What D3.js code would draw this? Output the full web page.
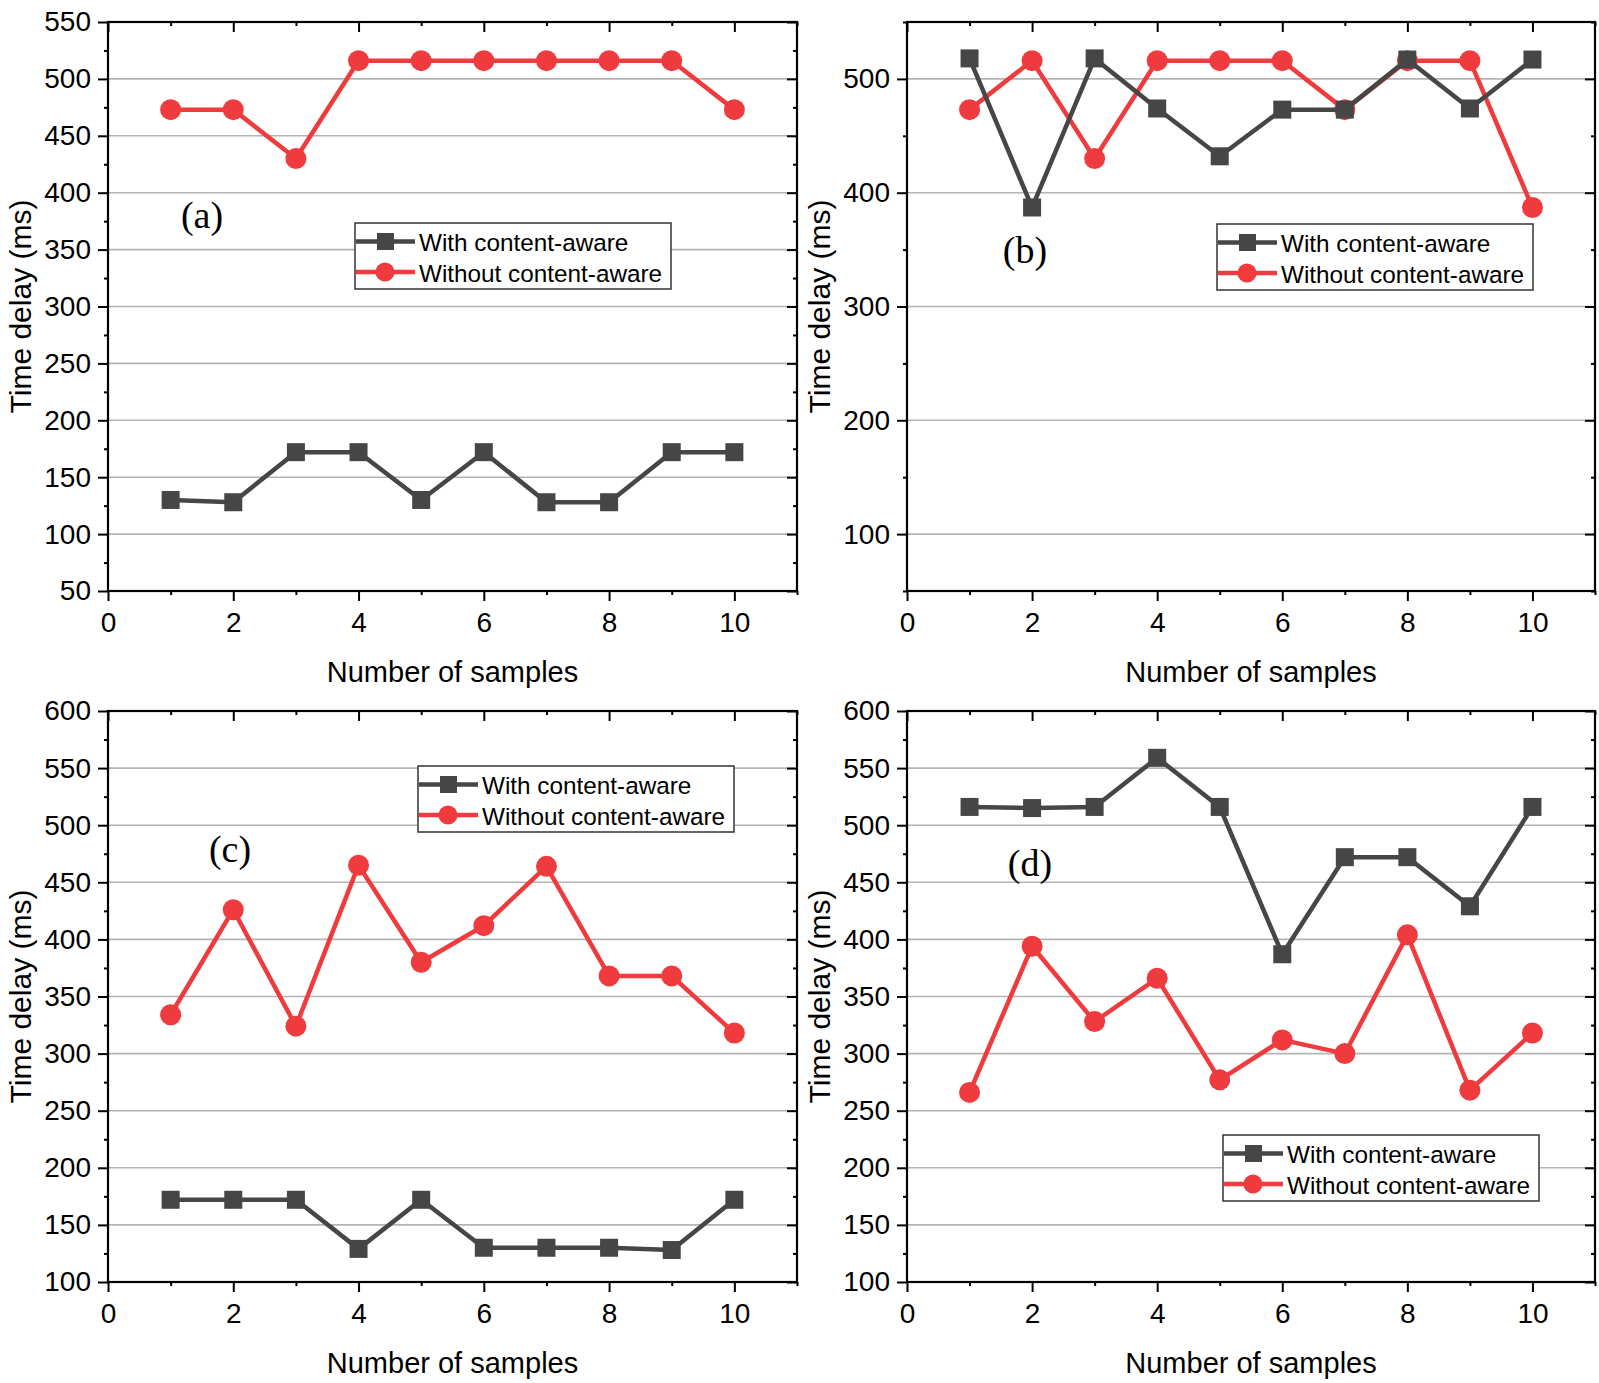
<!DOCTYPE html>
<meta charset="utf-8">
<style>
body { margin: 0; background: #fff; }
text { font-family: "Liberation Sans", Arial, sans-serif; fill: #000; }
.grid line { stroke: #b4b4b4; stroke-width: 1.6px; }
.axis path { display: none; }
.axis line { stroke: #000; stroke-width: 2px; }
</style>
<body>
<script src="https://d3js.org/d3.v7.min.js"></script>
<script>

const width = 1599
const height = 1383

// x values shared by all panels
const samples = [1, 2, 3, 4, 5, 6, 7, 8, 9, 10]
const xTickLabels = [0, 2, 4, 6, 8, 10]

// panel (a)
const aWith = [130, 128, 172, 172, 130, 172, 128, 128, 172, 172]
const aWithout = [473, 473, 430, 516, 516, 516, 516, 516, 516, 473]
const aTicks = [50, 100, 150, 200, 250, 300, 350, 400, 450, 500, 550]

// panel (b)
const bWith = [518, 387, 518, 474, 432, 473, 473, 517, 474, 517]
const bWithout = [473, 516, 430, 516, 516, 516, 473, 516, 516, 387]
const bTicks = [100, 200, 300, 400, 500]

// panel (c)
const cWith = [172, 172, 172, 129, 172, 130, 130, 130, 128, 172]
const cWithout = [334, 426, 324, 465, 380, 412, 464, 368, 368, 318]
const cTicks = [100, 150, 200, 250, 300, 350, 400, 450, 500, 550, 600]

// panel (d)
const dWith = [516, 515, 516, 559, 516, 387, 472, 472, 429, 516]
const dWithout = [266, 394, 328, 366, 277, 312, 300, 404, 268, 318]
const dTicks = [100, 150, 200, 250, 300, 350, 400, 450, 500, 550, 600]

const seriesNames = ['With content-aware', 'Without content-aware']
const panelLabels = ['(a)', '(b)', '(c)', '(d)']

const colWith = '#464646'
const colWithout = '#ef3b3d'

const svg = d3.select('body')
  .append('svg')
  .attr('width', width)
  .attr('height', height)

// one panel = frame, grid, axes, two series, legend and a letter
function drawPanel(p) {
  const x = d3.scaleLinear().domain([0, 11]).range([p.x0, p.x1])
  const y = d3.scaleLinear().domain(p.yDomain).range([p.y1, p.y0])

  const minorStep = p.ticks[1] - p.ticks[0]
  const minor = d3.range(p.yDomain[0], p.yDomain[1] + 0.1, minorStep / 2)
    .filter(v => !p.ticks.includes(v))
  const xMinor = [1, 3, 5, 7, 9, 11]

  // horizontal grid lines
  svg.append('g')
    .attr('class', 'grid')
    .selectAll('line')
    .data(p.ticks)
    .join('line')
    .attr('x1', p.x0).attr('x2', p.x1)
    .attr('y1', d => y(d)).attr('y2', d => y(d))

  // left axis, ticks out
  svg.append('g').attr('class', 'axis')
    .attr('transform', `translate(${p.x0},0)`)
    .call(d3.axisLeft(y).tickValues(p.ticks).tickSize(10).tickPadding(7))
    .selectAll('text').style('font-size', '28px')
  svg.append('g').attr('class', 'axis')
    .attr('transform', `translate(${p.x0},0)`)
    .call(d3.axisLeft(y).tickValues(minor).tickSize(4).tickFormat(''))

  // right axis, ticks in
  svg.append('g').attr('class', 'axis')
    .attr('transform', `translate(${p.x1},0)`)
    .call(d3.axisLeft(y).tickValues(p.ticks).tickSize(10).tickFormat(''))
  svg.append('g').attr('class', 'axis')
    .attr('transform', `translate(${p.x1},0)`)
    .call(d3.axisLeft(y).tickValues(minor).tickSize(4).tickFormat(''))

  // bottom axis, ticks out
  svg.append('g').attr('class', 'axis')
    .attr('transform', `translate(0,${p.y1})`)
    .call(d3.axisBottom(x).tickValues(xTickLabels).tickSize(10).tickPadding(11))
    .selectAll('text').style('font-size', '28px')
  svg.append('g').attr('class', 'axis')
    .attr('transform', `translate(0,${p.y1})`)
    .call(d3.axisBottom(x).tickValues(xMinor).tickSize(4).tickFormat(''))

  // top axis, ticks in
  svg.append('g').attr('class', 'axis')
    .attr('transform', `translate(0,${p.y0})`)
    .call(d3.axisBottom(x).tickValues(xTickLabels).tickSize(10).tickFormat(''))
  svg.append('g').attr('class', 'axis')
    .attr('transform', `translate(0,${p.y0})`)
    .call(d3.axisBottom(x).tickValues(xMinor).tickSize(4).tickFormat(''))

  // frame
  svg.append('rect')
    .attr('x', p.x0).attr('y', p.y0)
    .attr('width', p.x1 - p.x0).attr('height', p.y1 - p.y0)
    .attr('fill', 'none').attr('stroke', '#000').attr('stroke-width', 2.2)

  // axis titles
  svg.append('text')
    .attr('x', (p.x0 + p.x1) / 2).attr('y', p.y1 + 91)
    .attr('text-anchor', 'middle')
    .style('font-size', '29px')
    .text('Number of samples')
  svg.append('text')
    .attr('transform', `translate(${p.x0 - 88},${(p.y0 + p.y1) / 2}) rotate(-90)`)
    .attr('text-anchor', 'middle')
    .attr('dominant-baseline', 'central')
    .style('font-size', '30px')
    .text('Time delay (ms)')

  const line = d3.line()
    .x((d, i) => x(samples[i]))
    .y(d => y(d))

  // red series first, black drawn later on top
  const series = [
    { values: p.without, color: colWithout, shape: 'circle' },
    { values: p.with, color: colWith, shape: 'square' }
  ]

  series.forEach(s => {
    svg.append('path')
      .datum(s.values)
      .attr('d', line)
      .attr('fill', 'none')
      .attr('stroke', s.color)
      .attr('stroke-width', 4.5)
      .attr('stroke-linejoin', 'round')

    if (s.shape === 'circle') {
      svg.append('g').selectAll('circle')
        .data(s.values)
        .join('circle')
        .attr('cx', (d, i) => x(samples[i]))
        .attr('cy', d => y(d))
        .attr('r', 10.5)
        .attr('fill', s.color)
    } else {
      svg.append('g').selectAll('rect')
        .data(s.values)
        .join('rect')
        .attr('x', (d, i) => x(samples[i]) - 9)
        .attr('y', d => y(d) - 9)
        .attr('width', 18).attr('height', 18)
        .attr('fill', s.color)
    }
  })

  // panel letter
  svg.append('text')
    .attr('x', p.labelPos[0]).attr('y', p.labelPos[1])
    .attr('text-anchor', 'middle')
    .attr('dominant-baseline', 'central')
    .style('font-family', '"Liberation Serif", "Times New Roman", serif')
    .style('font-size', '38px')
    .text(p.label)

  // legend
  const lg = svg.append('g')
    .attr('transform', `translate(${p.legend[0]},${p.legend[1]})`)
  lg.append('rect')
    .attr('width', 316).attr('height', 66)
    .attr('fill', '#fff').attr('stroke', '#333').attr('stroke-width', 1.5)

  const rows = [
    { name: seriesNames[0], color: colWith, shape: 'square' },
    { name: seriesNames[1], color: colWithout, shape: 'circle' }
  ]
  rows.forEach((r, i) => {
    const ry = 18.5 + i * 30.5
    lg.append('line')
      .attr('x1', 1).attr('x2', 60)
      .attr('y1', ry).attr('y2', ry)
      .attr('stroke', r.color).attr('stroke-width', 4.5)
    if (r.shape === 'circle') {
      lg.append('circle').attr('cx', 30).attr('cy', ry).attr('r', 9.5).attr('fill', r.color)
    } else {
      lg.append('rect').attr('x', 22).attr('y', ry - 8.5).attr('width', 17).attr('height', 17).attr('fill', r.color)
    }
    lg.append('text')
      .attr('x', 64).attr('y', ry + 1)
      .attr('dominant-baseline', 'central')
      .style('font-size', '24.3px')
      .text(r.name)
  })
}

const panels = [
  { x0: 108, x1: 797, y0: 22, y1: 591, yDomain: [50, 550], ticks: aTicks,
    with: aWith, without: aWithout, label: panelLabels[0], labelPos: [202, 215], legend: [355, 223] },
  { x0: 907, x1: 1595, y0: 22, y1: 591, yDomain: [50, 550], ticks: bTicks,
    with: bWith, without: bWithout, label: panelLabels[1], labelPos: [1025, 250], legend: [1217, 224] },
  { x0: 108, x1: 797, y0: 711, y1: 1282, yDomain: [100, 600], ticks: cTicks,
    with: cWith, without: cWithout, label: panelLabels[2], labelPos: [230, 849], legend: [418, 766] },
  { x0: 907, x1: 1595, y0: 711, y1: 1282, yDomain: [100, 600], ticks: dTicks,
    with: dWith, without: dWithout, label: panelLabels[3], labelPos: [1030, 863], legend: [1223, 1135] }
]

panels.forEach(drawPanel)

</script>
</body>
</html>
